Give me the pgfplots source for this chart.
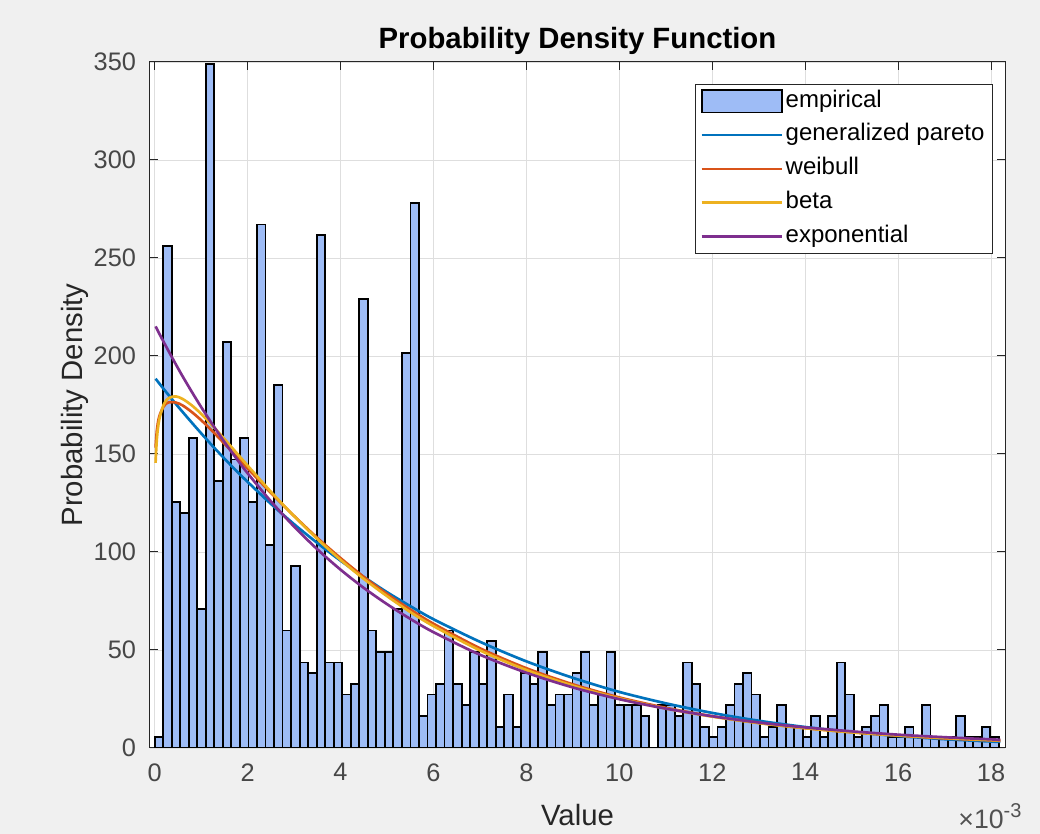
\documentclass[border=0pt]{standalone}
\usepackage{fontspec}
\setmainfont{Liberation Sans}
\usepackage{pgfplots}
\pgfplotsset{compat=1.18}
\definecolor{figbg}{RGB}{240,240,240}
\definecolor{axgray}{RGB}{38,38,38}
\definecolor{histface}{RGB}{158,188,246}
\definecolor{mblue}{RGB}{0,114,189}
\definecolor{morange}{RGB}{217,83,25}
\definecolor{myellow}{RGB}{237,177,32}
\definecolor{mpurple}{RGB}{126,47,142}
\begin{document}
\begin{tikzpicture}
\path[fill=figbg, use as bounding box] (-112.5pt,-64.5pt) rectangle (667.5pt,561pt);
\begin{axis}[
  at={(0pt,0pt)}, anchor=south west,
  scale only axis, width=641.25pt, height=514.5pt,
  xmin=-0.1, xmax=18.3, ymin=0, ymax=350,
  xtick={0,2,...,18}, ytick={0,50,...,350},
  grid=major, major grid style={color=black!13, line width=0.6pt},
  axis line style={color=axgray, line width=0.75pt},
  tick style={color=axgray, line width=0.75pt},
  major tick length=6pt, tick align=inside,
  axis background/.style={fill=white},
  ticklabel style={font=\fontsize{19}{22}\selectfont, text=axgray!85},
  xticklabel style={yshift=-8pt},
  yticklabel style={xshift=-7pt},
  /pgf/number format/assume math mode=true,
  title={Probability Density Function},
  title style={at={(axis description cs:0.5,1.035)}, anchor=center, yshift=-8pt, font=\bfseries\fontsize{22}{26}\selectfont},
  xlabel={Value},
  xlabel style={at={(axis description cs:0.5,-0.0977)}, anchor=center, font=\fontsize{22}{26}\selectfont, text=axgray},
  ylabel={Probability Density},
  ylabel style={at={(axis description cs:-0.0877,0.5)}, anchor=center, font=\fontsize{22}{26}\selectfont, text=axgray},
  legend image code/.code={\draw[#1] (0pt,0pt) -- (60pt,0pt);},
  legend style={at={(axis description cs:0.986,0.968)}, anchor=north east,
    draw=axgray, line width=0.75pt, fill=white, font=\fontsize{18}{21}\selectfont,
    inner xsep=4pt, inner ysep=2pt, row sep=4.4pt,
    nodes={inner sep=2pt, text height=13pt, text depth=4pt}},
  legend cell align=left,
]
\addplot[ybar interval, fill=histface, draw=black, line width=1.35pt,
  legend image code/.code={\draw[fill=histface, draw=black, line width=1.35pt] (0pt,-8.5pt) rectangle (60pt,8.5pt);}]
coordinates {
(0,5.45) (0.1835,256.15) (0.367,125.35) (0.5505,119.9) (0.734,158.05) (0.9175,70.85)
(1.101,348.8) (1.2845,136.25) (1.468,207.1) (1.6515,147.15) (1.835,158.05) (2.0185,125.35)
(2.202,267.05) (2.3855,103.55) (2.569,185.3) (2.7525,59.95) (2.936,92.65) (3.1195,43.6)
(3.303,38.15) (3.4865,261.6) (3.67,43.6) (3.8535,43.6) (4.037,27.25) (4.2205,32.7)
(4.404,228.9) (4.5875,59.95) (4.771,49.05) (4.9545,49.05) (5.138,70.85) (5.3215,201.65)
(5.505,277.95) (5.6885,16.35) (5.872,27.25) (6.0555,32.7) (6.239,59.95) (6.4225,32.7)
(6.606,21.8) (6.7895,49.05) (6.973,32.7) (7.1565,54.5) (7.34,10.9) (7.5235,27.25)
(7.707,10.9) (7.8905,38.15) (8.074,32.7) (8.2575,49.05) (8.441,21.8) (8.6245,27.25)
(8.808,27.25) (8.9915,38.15) (9.175,49.05) (9.3585,21.8) (9.542,27.25) (9.7255,49.05)
(9.909,21.8) (10.0925,21.8) (10.276,21.8) (10.4595,16.35) (10.643,0) (10.8265,21.8)
(11.01,21.8) (11.1935,16.35) (11.377,43.6) (11.5605,32.7) (11.744,10.9) (11.9275,5.45)
(12.111,10.9) (12.2945,21.8) (12.478,32.7) (12.6615,38.15) (12.845,27.25) (13.0285,5.45)
(13.212,10.9) (13.3955,21.8) (13.579,10.9) (13.7625,10.9) (13.946,5.45) (14.1295,16.35)
(14.313,5.45) (14.4965,16.35) (14.68,43.6) (14.8635,27.25) (15.047,5.45) (15.2305,10.9)
(15.414,16.35) (15.5975,21.8) (15.781,5.45) (15.9645,5.45) (16.148,10.9) (16.3315,5.45)
(16.515,21.8) (16.6985,5.45) (16.882,5.45) (17.0655,5.45) (17.249,16.35) (17.4325,5.45)
(17.616,5.45) (17.7995,10.9) (17.983,5.45) (18.1665,0)
};
\addlegendentry{empirical}
\addplot[mblue, line width=2pt, smooth] coordinates {
(0.02,188.4) (0.1,186.0) (0.2,183.0) (0.3,180.1) (0.45,175.7) (0.6,171.5) (0.8,166.0) (1,160.6) (1.25,154.0) (1.5,147.7) (1.75,141.6) (2,135.8) (2.5,124.6) (3,114.2) (3.5,104.6) (4,95.6) (4.5,87.3) (5,79.5) (5.5,72.4) (6,65.7) (7,54.2) (8,44.2) (9,35.8) (10,28.6) (11,22.8) (12,17.9) (13,13.9) (14,10.7) (15,8.2) (16,6.1) (17,4.5) (18,3.3) (18.2,3.1)
};
\addlegendentry{generalized pareto}
\addplot[morange, line width=2pt, smooth] coordinates {
(0.02,153.2) (0.05,162.5) (0.1,169.2) (0.2,174.5) (0.3,176.3) (0.45,176.3) (0.6,174.8) (0.8,171.4) (1,167.3) (1.25,161.5) (1.5,155.3) (1.75,149.0) (2,142.7) (2.5,130.2) (3,118.4) (3.5,107.2) (4,96.9) (4.5,87.3) (5,78.6) (5.5,70.7) (6,63.4) (7,50.9) (8,40.7) (9,32.5) (10,25.8) (11,20.5) (12,16.2) (13,12.8) (14,10.1) (15,8.0) (16,6.3) (17,4.9) (18,3.9) (18.2,3.7)
};
\addlegendentry{weibull}
\addplot[myellow, line width=2pt, smooth] coordinates {
(0.02,145.5) (0.05,158.3) (0.1,167.7) (0.2,175.5) (0.3,178.5) (0.45,179.4) (0.6,178.1) (0.8,174.8) (1,170.5) (1.25,164.3) (1.5,157.7) (1.75,150.9) (2,144.1) (2.5,130.8) (3,118.3) (3.5,106.7) (4,96.0) (4.5,86.3) (5,77.5) (5.5,69.4) (6,62.2) (7,49.8) (8,39.8) (9,31.8) (10,25.3) (11,20.1) (12,16.0) (13,12.7) (14,10.1) (15,8.0) (16,6.4) (17,5.1) (18,4.0) (18.2,3.9)
};
\addlegendentry{beta}
\addplot[mpurple, line width=2pt, smooth] coordinates {
(0.02,215.1) (0.1,211.4) (0.2,206.9) (0.3,202.5) (0.45,196.0) (0.6,189.7) (0.8,181.7) (1,174.0) (1.25,164.9) (1.5,156.2) (1.75,148.0) (2,140.2) (2.5,125.9) (3,113.0) (3.5,101.4) (4,91.0) (4.5,81.7) (5,73.4) (5.5,65.9) (6,59.1) (7,47.6) (8,38.4) (9,30.9) (10,24.9) (11,20.1) (12,16.2) (13,13.0) (14,10.5) (15,8.5) (16,6.8) (17,5.5) (18,4.4) (18.2,4.2)
};
\addlegendentry{exponential}
\end{axis}
\node[anchor=center, text=axgray!80, font=\fontsize{20}{24}\selectfont, inner sep=0pt] at (630pt,-51pt) {×10\raisebox{0.75ex}{\fontsize{15}{17}\selectfont -3}};
\end{tikzpicture}
\end{document}
